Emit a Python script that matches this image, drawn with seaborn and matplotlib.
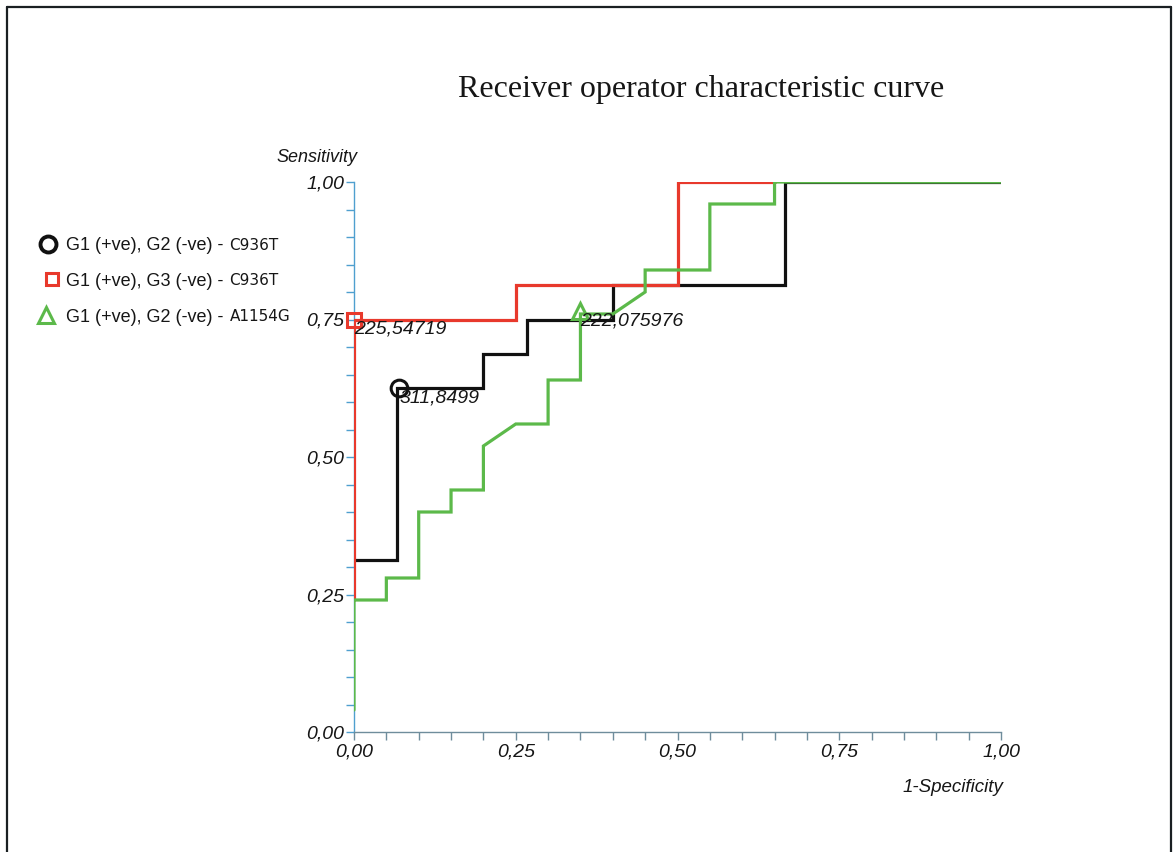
import numpy as np
import pandas as pd
import matplotlib
matplotlib.use("Agg")
import matplotlib.pyplot as plt
from matplotlib.lines import Line2D
from matplotlib.ticker import MultipleLocator, FuncFormatter
import seaborn as sns

# ---------------- data ----------------
black_fpr = [0.0, 0.0667, 0.0667, 0.2, 0.2, 0.2667, 0.2667, 0.4, 0.4, 0.6667, 0.6667, 1.0]
black_tpr = [0.3125, 0.3125, 0.625, 0.625, 0.6875, 0.6875, 0.75, 0.75, 0.8125, 0.8125, 1.0, 1.0]

red_fpr = [0.0, 0.0, 0.25, 0.25, 0.5, 0.5, 0.65]
red_tpr = [0.24, 0.75, 0.75, 0.8125, 0.8125, 1.0, 1.0]

green_fpr = [0.0, 0.0, 0.05, 0.05, 0.10, 0.10, 0.15, 0.15, 0.20, 0.20, 0.25, 0.30, 0.30,
             0.35, 0.35, 0.40, 0.45, 0.45, 0.55, 0.55, 0.65, 0.65, 1.0]
green_tpr = [0.04, 0.24, 0.24, 0.28, 0.28, 0.40, 0.40, 0.44, 0.44, 0.52, 0.56, 0.56, 0.64,
             0.64, 0.76, 0.76, 0.80, 0.84, 0.84, 0.96, 0.96, 1.0, 1.0]

series_names = ["G1 (+ve), G2 (-ve) - ", "G1 (+ve), G3 (-ve) - ", "G1 (+ve), G2 (-ve) - "]
series_snps = ["C936T", "C936T", "A1154G"]

cut_points_x = [0.07, 0.0, 0.35]
cut_points_y = [0.625, 0.75, 0.765]
cut_labels = ["311,8499", "225,54719", "222,075976"]

title = "Receiver operator characteristic curve"
ylabel = "Sensitivity"
xlabel = "1-Specificity"

# ---------------- styling ----------------
sns.set_style("white")
plt.rcParams["font.family"] = ["Liberation Sans", "DejaVu Sans"]

colors = ["#111111", "#e8392c", "#5cb94a"]
markers = ["o", "s", "^"]
msizes = [12, 10, 12]
txt = "#161616"

W, H = 1176, 852
fig = plt.figure(figsize=(W / 100, H / 100), dpi=100)
fig.patch.set_facecolor("white")

ax = fig.add_axes([354 / W, (H - 732) / H, (1001 - 354) / W, (732 - 182) / H])
ax.set_facecolor("white")

frames = [
    pd.DataFrame({"fpr": black_fpr, "tpr": black_tpr}),
    pd.DataFrame({"fpr": red_fpr, "tpr": red_tpr}),
    pd.DataFrame({"fpr": green_fpr, "tpr": green_tpr}),
]
for df, c in zip(frames, colors):
    sns.lineplot(data=df, x="fpr", y="tpr", sort=False, estimator=None, color=c,
                 lw=2.3, ax=ax, zorder=3, solid_joinstyle="miter")

for i in range(3):
    ax.plot([cut_points_x[i]], [cut_points_y[i]], linestyle="none", marker=markers[i],
            markersize=msizes[i], markerfacecolor="none", markeredgecolor=colors[i],
            markeredgewidth=2.2, zorder=5, clip_on=False)
    ax.annotate(cut_labels[i], (cut_points_x[i], cut_points_y[i]), xytext=(0, -1),
                textcoords="offset points", ha="left", va="top", fontsize=14,
                fontstyle="italic", color=txt, zorder=6)

ax.set_xlim(0, 1)
ax.set_ylim(0, 1)
ax.set_xlabel("")
ax.set_ylabel("")
ax.xaxis.set_major_locator(MultipleLocator(0.25))
ax.yaxis.set_major_locator(MultipleLocator(0.25))
ax.xaxis.set_minor_locator(MultipleLocator(0.05))
ax.yaxis.set_minor_locator(MultipleLocator(0.05))
fmt = FuncFormatter(lambda v, p: f"{v:.2f}".replace(".", ","))
ax.xaxis.set_major_formatter(fmt)
ax.yaxis.set_major_formatter(fmt)

for s in ["top", "right"]:
    ax.spines[s].set_visible(False)
ax.spines["left"].set_color("#4f9fcf")
ax.spines["bottom"].set_color("#6f8d9c")
ax.spines["left"].set_linewidth(1.0)
ax.spines["bottom"].set_linewidth(1.0)

ax.tick_params(axis="x", which="both", direction="out", length=6, width=1,
               color="#6f8d9c", bottom=True, labelsize=14, pad=2, labelcolor=txt)
ax.tick_params(axis="y", which="both", direction="out", length=6, width=1,
               color="#4f9fcf", left=True, labelsize=14, pad=1, labelcolor=txt)
for lab in ax.get_xticklabels() + ax.get_yticklabels():
    lab.set_fontstyle("italic")

# title and axis captions
fig.text(701 / W, 1 - 90 / H, title, ha="center", va="center", fontsize=23,
         family=["Liberation Serif", "DejaVu Serif"], color=txt)
fig.text(357 / W, 1 - 157 / H, ylabel, ha="right", va="center", fontsize=13,
         fontstyle="italic", color=txt)
fig.text(1003 / W, 1 - 788 / H, xlabel, ha="right", va="center", fontsize=13.5,
         fontstyle="italic", color=txt)

# legend (built from the series lists)
renderer = fig.canvas.get_renderer()
rows_y = [244, 279, 315]
marker_x = [48, 52, 46]
for i in range(3):
    yf = 1 - rows_y[i] / H
    fig.add_artist(Line2D([marker_x[i] / W], [yf], transform=fig.transFigure, linestyle="none",
                          marker=markers[i], markersize=[11.5, 9, 11][i],
                          markerfacecolor="none", markeredgecolor=colors[i],
                          markeredgewidth=2.8 if i == 0 else 2.2))
    t1 = fig.text(66 / W, yf, series_names[i], ha="left", va="center_baseline",
                  fontsize=13, color=txt)
    bb = t1.get_window_extent(renderer)
    fig.text((bb.x1 + 1) / W, yf, series_snps[i], ha="left", va="center_baseline",
             fontsize=11, color=txt, family=["DejaVu Sans"])

# page border (top, left, right)
bc = "#1a1f22"
fig.add_artist(Line2D([7 / W, 7 / W], [0, 1 - 7 / H], transform=fig.transFigure, color=bc, lw=1.6))
fig.add_artist(Line2D([1171 / W, 1171 / W], [0, 1 - 7 / H], transform=fig.transFigure, color=bc, lw=1.6))
fig.add_artist(Line2D([7 / W, 1171 / W], [1 - 7 / H, 1 - 7 / H], transform=fig.transFigure, color=bc, lw=1.6))

fig.savefig("out.png", dpi=100, facecolor="white")
